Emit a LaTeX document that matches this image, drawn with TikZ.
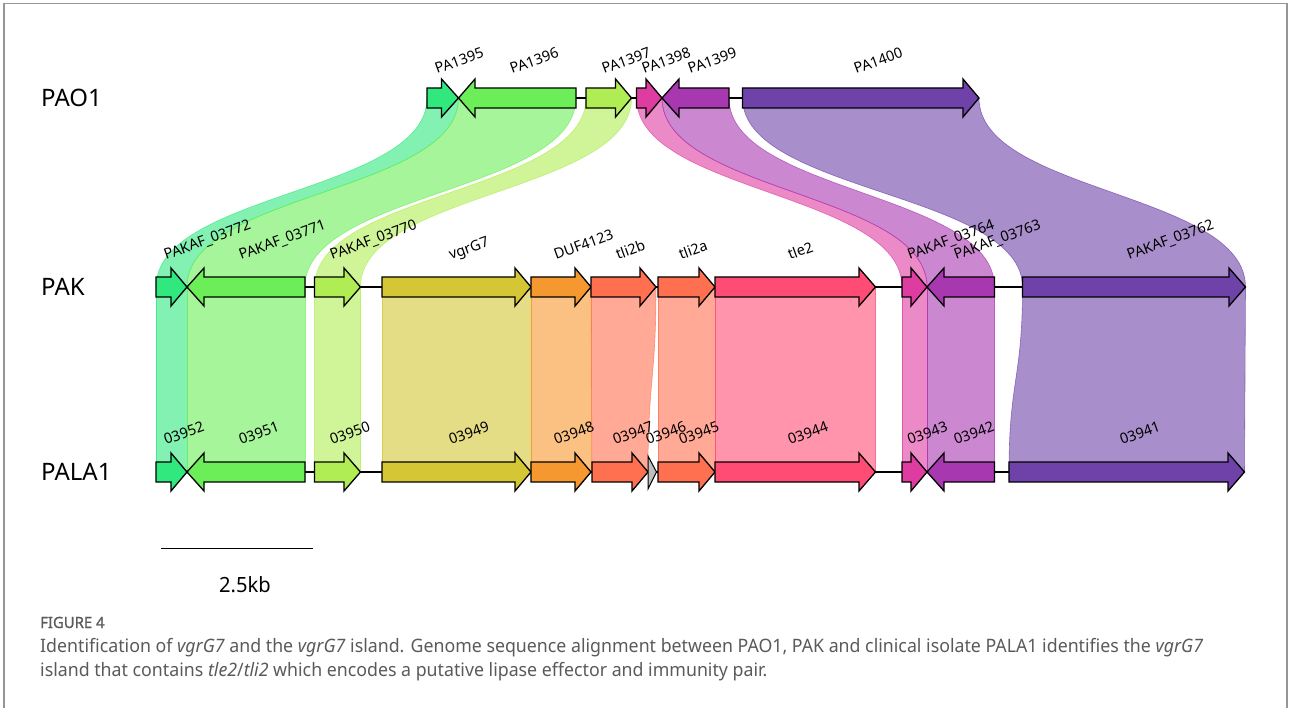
\documentclass[tikz,border=0pt]{standalone}
\usepackage{fontspec}
\setmainfont{Noto Sans}
\newfontfamily\capfont[FakeStretch=0.96]{Noto Sans}
\newfontfamily\figfont[FakeStretch=0.96, FakeBold=1.2]{Noto Sans}
\definecolor{c1}{RGB}{48,232,125}
\definecolor{c2}{RGB}{108,238,88}
\definecolor{c3}{RGB}{176,236,84}
\definecolor{c4}{RGB}{212,198,52}
\definecolor{c5}{RGB}{246,152,48}
\definecolor{c6}{RGB}{255,112,80}
\definecolor{c7}{RGB}{255,76,116}
\definecolor{c8}{RGB}{222,60,160}
\definecolor{c9}{RGB}{168,56,176}
\definecolor{c10}{RGB}{110,66,168}
\definecolor{cgray}{RGB}{190,190,190}
\definecolor{capgray}{RGB}{90,90,90}
\definecolor{framegray}{RGB}{150,150,150}
\tikzset{
  genestyle/.style={draw=black, line width=1.3pt, line join=miter},
  ribbonstyle/.style={fill=#1, fill opacity=0.6, draw=#1, draw opacity=0.7, line width=0.6pt},
  glabel/.style={rotate=20, anchor=base west, inner sep=0pt, font=\fontsize{14.5}{14.5}\selectfont},
  rowlabel/.style={anchor=west, inner sep=0pt, font=\fontsize{24}{24}\selectfont},
  backbone/.style={draw=black, line width=1.2pt}
}
% ribbon: colour, x1a, x1b, y1, x2a, x2b, y2
\newcommand{\rib}[7]{%
  \path[ribbonstyle=#1] (#2,#4) .. controls (#2,{(#4+#7)/2}) and (#5,{(#4+#7)/2}) .. (#5,#7)
    -- (#6,#7) .. controls (#6,{(#4+#7)/2}) and (#3,{(#4+#7)/2}) .. (#3,#4) -- cycle;}
% forward gene: colour, start, headbase, tip, y
\newcommand{\fg}[5]{%
  \draw[genestyle, fill=#1] (#2,#5-10) -- (#3,#5-10) -- (#3,#5-19) -- (#4,#5)
    -- (#3,#5+19) -- (#3,#5+10) -- (#2,#5+10) -- cycle;}
% reverse gene: colour, tip, headbase, end, y
\newcommand{\rg}[5]{%
  \draw[genestyle, fill=#1] (#2,#5) -- (#3,#5-19) -- (#3,#5-10) -- (#4,#5-10)
    -- (#4,#5+10) -- (#3,#5+10) -- (#3,#5+19) -- cycle;}
% label: name, centre x, baseline y, text
\newcommand{\glab}[4]{\node[glabel] (#1) at (#2-5,#3) {#4};}
\begin{document}
\begin{tikzpicture}[x=1pt, y=-1pt]
\useasboundingbox (0,0) rectangle (1290,708);
% frame
\draw[framegray, line width=1.6pt] (4,708) -- (4,3.5) -- (1287,3.5) -- (1287,708);

% ribbons PAO1 -> PAK
\rib{c1}{427}{458.5}{98}{156}{187}{287}
\rib{c2}{458.5}{576}{98}{187}{305}{287}
\rib{c3}{586}{631.5}{98}{314.5}{360.5}{287}
\rib{c8}{636.5}{662}{98}{902}{927}{287}
\rib{c9}{662}{729}{98}{927}{994.5}{287}
\rib{c10}{742.5}{979}{98}{1022.5}{1245.5}{287}
% ribbons PAK -> PALA1
\rib{c1}{156}{187}{287}{156}{187}{472}
\rib{c2}{187}{305}{287}{187}{305}{472}
\rib{c3}{314.5}{360.5}{287}{314.5}{360.5}{472}
\rib{c4}{382}{531}{287}{382}{531}{472}
\rib{c5}{531}{591}{287}{531}{591}{472}
\rib{c6}{591}{656}{287}{592}{648}{472}
\rib{c6}{658}{715}{287}{658}{715}{472}
\rib{c7}{715}{875.5}{287}{715}{875.5}{472}
\rib{c8}{902}{927}{287}{902}{927}{472}
\rib{c9}{927}{994.5}{287}{927}{994.5}{472}
\rib{c10}{1022.5}{1245.5}{287}{1009}{1244.5}{472}

% backbones
\coordinate (a0) at (427,98);  \coordinate (a1) at (979,98);
\coordinate (b0) at (156,287); \coordinate (b1) at (1245,287);
\coordinate (p0) at (156,472); \coordinate (p1) at (1244,472);
\draw[backbone] (a0) -- (a1);
\draw[backbone] (b0) -- (b1);
\draw[backbone] (p0) -- (p1);

% PAO1 genes
\fg{c1}{427}{441.5}{458.5}{98}
\rg{c2}{458.5}{475}{576}{98}
\fg{c3}{586}{615.5}{631.5}{98}
\fg{c8}{636.5}{646}{662}{98}
\rg{c9}{662}{679}{729}{98}
\fg{c10}{742.5}{963}{979}{98}
% PAK genes
\fg{c1}{156}{171}{187}{287}
\rg{c2}{187}{204}{305}{287}
\fg{c3}{314.5}{344}{360.5}{287}
\fg{c4}{382}{515}{531}{287}
\fg{c5}{531}{575}{591}{287}
\fg{c6}{591}{640}{656}{287}
\fg{c6}{658}{699}{715}{287}
\fg{c7}{715}{859}{875.5}{287}
\fg{c8}{902}{911}{927}{287}
\rg{c9}{927}{944}{994.5}{287}
\fg{c10}{1022.5}{1229}{1245.5}{287}
% PALA1 genes
\fg{c1}{156}{171}{187}{472}
\rg{c2}{187}{204}{305}{472}
\fg{c3}{314.5}{344}{360.5}{472}
\fg{c4}{382}{515}{531}{472}
\fg{c5}{531}{575}{591}{472}
\fg{c6}{592}{632}{648}{472}
\draw[genestyle, line width=1pt, fill=cgray] (648,456) -- (656.5,472) -- (648,489) -- cycle;
\fg{c6}{658}{699}{715}{472}
\fg{c7}{715}{859}{875.5}{472}
\fg{c8}{902}{911}{927}{472}
\rg{c9}{927}{944}{994.5}{472}
\fg{c10}{1009}{1228}{1244.5}{472}

% row labels
\node[rowlabel] (rowA) at (41,98) {PAO1};
\node[rowlabel] (rowB) at (41,287) {PAK};
\node[rowlabel] (rowC) at (41,472) {PALA1};

% PAO1 labels
\glab{l1395}{442}{74}{PA1395}
\glab{l1396}{517}{74}{PA1396}
\glab{l1397}{609}{74}{PA1397}
\glab{l1398}{649}{74}{PA1398}
\glab{l1399}{695}{74}{PA1399}
\glab{l1400}{861}{74}{PA1400}
% PAK labels
\glab{k72}{171}{260}{PAKAF\_03772}
\glab{k71}{246}{260}{PAKAF\_03771}
\glab{k70}{337}{260}{PAKAF\_03770}
\glab{kvg}{456}{260}{vgrG7}
\glab{kduf}{561}{260}{DUF4123}
\glab{ktb}{623}{260}{tli2b}
\glab{kta}{686}{260}{tli2a}
\glab{ktle}{795}{260}{tle2}
\glab{k64}{914.5}{260}{PAKAF\_03764}
\glab{k63}{961}{260}{PAKAF\_03763}
\glab{k62}{1134}{260}{PAKAF\_03762}
% PALA1 labels
\glab{q52}{171}{445}{03952}
\glab{q51}{246}{445}{03951}
\glab{q50}{337}{445}{03950}
\glab{q49}{456}{445}{03949}
\glab{q48}{561}{445}{03948}
\glab{q47}{620}{445}{03947}
\glab{q46}{653}{445}{03946}
\glab{q45}{686}{445}{03945}
\glab{q44}{795}{445}{03944}
\glab{q43}{914.5}{445}{03943}
\glab{q42}{961}{445}{03942}
\glab{q41}{1127}{445}{03941}

% scale bar
\coordinate (s0) at (161,548);
\coordinate (s1) at (313,548);
\draw[line width=1pt] (s0) -- (s1);
\node[font=\capfont\fontsize{21}{21}\selectfont, inner sep=0pt] (sbl) at (245,585) {2.5kb};

% caption
\node[anchor=base west, inner sep=0pt, text=capgray, font=\figfont\fontsize{15.5}{15.5}\selectfont] (fig) at (40,628) {FIGURE 4};
\node[anchor=base west, inner sep=0pt, text=capgray, font=\capfont\fontsize{18.5}{18.5}\selectfont] (cap1) at (40,652)
  {Identification of \textit{vgrG7} and the \textit{vgrG7} island. Genome sequence alignment between PAO1, PAK and clinical isolate PALA1 identifies the \textit{vgrG7}};
\node[anchor=base west, inner sep=0pt, text=capgray, font=\capfont\fontsize{18.5}{18.5}\selectfont] (cap2) at (40,676)
  {island that contains \textit{tle2}/\textit{tli2} which encodes a putative lipase effector and immunity pair.};
\end{tikzpicture}
\end{document}
